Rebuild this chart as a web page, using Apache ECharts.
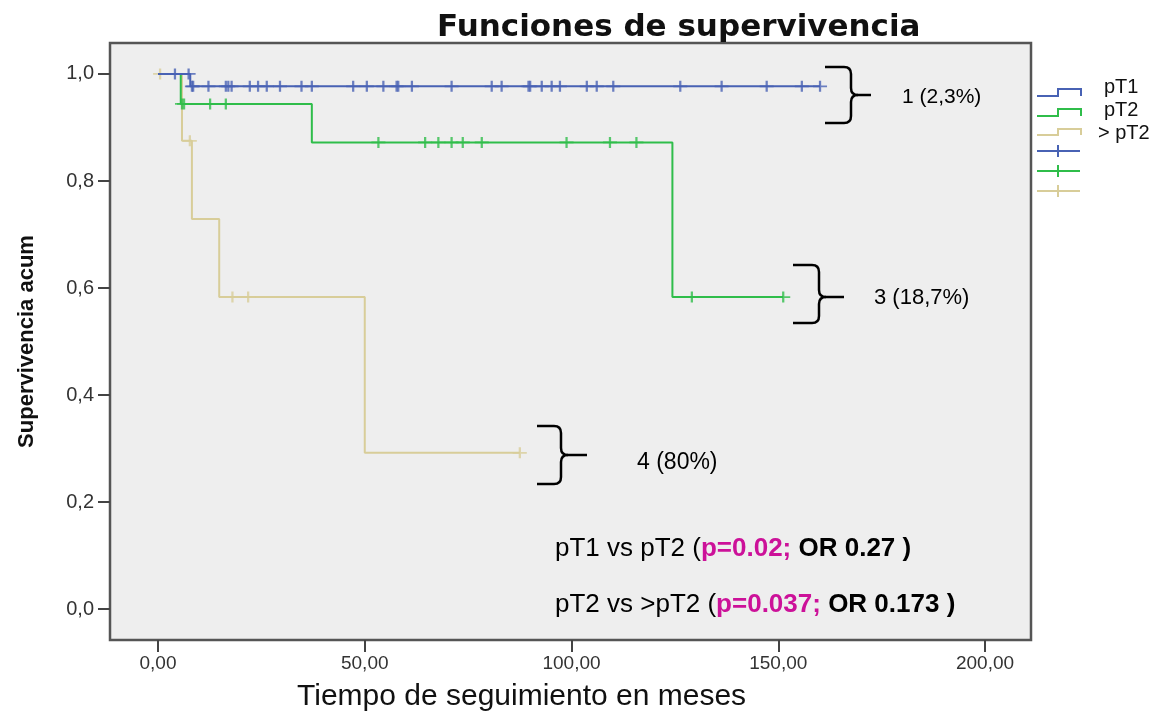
<!DOCTYPE html>
<html>
<head>
<meta charset="utf-8">
<script src="https://cdn.jsdelivr.net/npm/echarts@6/dist/echarts.min.js"></script>
<style>
html,body{margin:0;padding:0;background:#ffffff;}
#chart{width:1162px;height:715px;}
</style>
</head>
<body>
<div id="chart"></div>
<script>
// ---- Data ----
// Kaplan-Meier step curves: [time (months), cumulative survival]
const pT1Curve   = [[0, 1.0], [7.8, 0.977], [160.1, 0.977]];
const pT2Curve   = [[0, 1.0], [5.5, 0.944], [37.2, 0.872], [124.4, 0.583], [151.2, 0.583]];
const gtPT2Curve = [[0, 1.0], [5.8, 0.875], [8.2, 0.729], [14.8, 0.583], [50.0, 0.292], [87.5, 0.292]];

// Censored observation times (months)
const pT1Censored   = [4.1, 7.4, 8.2, 8.5, 12.2, 16.4, 17.0, 17.8, 22.2, 24.2, 26.3, 29.5, 34.7, 37.2, 47.2, 50.5, 54.5, 57.7, 58.1, 61.4, 71.0, 80.7, 83.1, 89.6, 90.0, 92.8, 95.2, 97.2, 103.7, 106.1, 110.1, 126.3, 136.3, 147.2, 155.7, 160.1];
const pT2Censored   = [5.8, 6.3, 12.6, 16.4, 53.3, 64.6, 67.8, 71.0, 73.7, 78.3, 98.8, 109.3, 115.7, 129.1, 151.2];
const gtPT2Censored = [0.5, 7.7, 18.0, 21.8, 87.5];

const seriesNames = ['pT1', 'pT2', '> pT2'];
const xTickValues = [0, 50, 100, 150, 200];
const yTickValues = [0, 0.2, 0.4, 0.6, 0.8, 1.0];

const eventLabels = ['1 (2,3%)', '3 (18,7%)', '4 (80%)'];
const comparisons = [
  ['pT1 vs pT2 (', 'p=0.02;', ' OR 0.27 )'],
  ['pT2 vs >pT2 (', 'p=0.037;', ' OR 0.173 )']
];

// ---- Styling ----
const COLORS = ['#4862b4', '#2fbd4a', '#d8cd99'];
const FONT = "'Liberation Sans', Arial, sans-serif";

// plot frame padding beyond the tick range (as in the SPSS frame)
const X_PAD_LO = 11.61, X_PAD_HI = 11.12, Y_PAD = 0.0579;

function survAt(curve, t) {
  let s = curve[0][1];
  for (const p of curve) { if (p[0] <= t) s = p[1]; }
  return s;
}
const PLUS = 'path://M6 0 L6 12 M0 6 L12 6';

function lineSeries(name, curve, color, z) {
  return {
    name: name, type: 'line', step: 'end', data: curve,
    showSymbol: false, symbol: 'none', z: z,
    lineStyle: { color: color, width: 2 }, itemStyle: { color: color },
    animation: false, silent: true
  };
}
function censorSeries(name, curve, times, color, z) {
  return {
    name: name + ' censurado', type: 'scatter', z: z,
    data: times.map(t => [t, survAt(curve, t)]),
    symbol: PLUS, symbolSize: [14, 11],
    itemStyle: { color: 'rgba(0,0,0,0)', borderColor: color, borderWidth: 2 },
    animation: false, silent: true
  };
}

function braceElements(L, S, T, M, B, tip) {
  const st = { stroke: '#000', lineWidth: 2.5, fill: null };
  const r = 7;
  const segs = [];
  const line = (x1, y1, x2, y2) => segs.push({ type: 'line', silent: true, shape: { x1, y1, x2, y2 }, style: st });
  const curve = (x1, y1, cx, cy, x2, y2) => segs.push({ type: 'bezierCurve', silent: true, shape: { x1, y1, x2, y2, cpx1: cx, cpy1: cy }, style: st });
  line(L, T, S - r, T);
  curve(S - r, T, S, T, S, T + r);
  line(S, T + r, S, M - r);
  curve(S, M - r, S, M, S + r, M);
  line(S + r, M, tip, M);
  curve(S, M + r, S, M, S + r, M);
  line(S, M + r, S, B - r);
  curve(S, B - r, S, B, S - r, B);
  line(S - r, B, L, B);
  return segs;
}

const chart = echarts.init(document.getElementById('chart'), null, { renderer: 'canvas' });

let extraGraphics = [];
const legendY = [[96, 89], [116, 109], [135, 129]];
const legendLabelY = [87, 110, 133];
const legendLabelX = [1104, 1104, 1098];
for (let i = 0; i < 3; i++) {
  const lo = legendY[i][0], hi = legendY[i][1];
  extraGraphics.push({
    type: 'polyline', silent: true,
    shape: { points: [[1037, lo], [1058, lo], [1058, hi], [1081, hi], [1081, lo]] },
    style: { stroke: COLORS[i], lineWidth: 2, fill: null }
  });
  extraGraphics.push({
    type: 'text', silent: true, x: legendLabelX[i], y: legendLabelY[i],
    style: { text: seriesNames[i], font: '20px ' + FONT, fill: '#111', textVerticalAlign: 'middle', verticalAlign: 'middle' }
  });
  const py = 151 + i * 20;
  extraGraphics.push({
    type: 'line', silent: true,
    shape: { x1: 1037, y1: py, x2: 1080, y2: py },
    style: { stroke: COLORS[i], lineWidth: 2 }
  });
  extraGraphics.push({
    type: 'line', silent: true,
    shape: { x1: 1058, y1: py - 6, x2: 1058, y2: py + 6 },
    style: { stroke: COLORS[i], lineWidth: 2 }
  });
}

const braces = [
  { L: 825, S: 851, T: 67, M: 95, B: 123, tip: 871, lx: 902, ly: 97, fs: 21 },
  { L: 793, S: 819, T: 265, M: 297, B: 323, tip: 844, lx: 874, ly: 298, fs: 22 },
  { L: 537, S: 561, T: 426, M: 455, B: 484, tip: 587, lx: 637, ly: 463, fs: 23 }
];
braces.forEach((b, i) => {
  extraGraphics = extraGraphics.concat(braceElements(b.L, b.S, b.T, b.M, b.B, b.tip));
  extraGraphics.push({
    type: 'text', silent: true, x: b.lx, y: b.ly,
    style: { text: eventLabels[i], font: b.fs + 'px ' + FONT, fill: '#000', textVerticalAlign: 'middle', verticalAlign: 'middle' }
  });
});

comparisons.forEach((c, i) => {
  extraGraphics.push({
    type: 'text', silent: true, x: 555, y: 549 + i * 56,
    style: {
      text: '{n|' + c[0] + '}{m|' + c[1] + '}{b|' + c[2] + '}',
      verticalAlign: 'middle', textVerticalAlign: 'middle',
      rich: {
        n: { fontFamily: FONT, fontSize: 26, color: '#000', fill: '#000' },
        m: { fontFamily: FONT, fontSize: 26, fontWeight: 'bold', color: '#cc1199', fill: '#cc1199' },
        b: { fontFamily: FONT, fontSize: 26, fontWeight: 'bold', color: '#000', fill: '#000' }
      }
    }
  });
});

const option = {
  backgroundColor: '#ffffff',
  animation: false,
  title: {
    text: 'Funciones de supervivencia',
    left: 432, top: 7,
    textStyle: { fontFamily: "'DejaVu Sans', sans-serif", fontWeight: 'bold', fontSize: 31, color: '#111' }
  },
  grid: {
    left: 110, right: 131, top: 43, bottom: 75, containLabel: false,
    show: true, backgroundColor: '#eeeeee', borderColor: '#555', borderWidth: 2.5
  },
  xAxis: {
    type: 'value', position: 'bottom',
    min: xTickValues[0] - X_PAD_LO, max: xTickValues[xTickValues.length - 1] + X_PAD_HI,
    axisLine: { show: false, onZero: false },
    axisTick: { show: true, inside: false, length: 12, customValues: xTickValues, lineStyle: { color: '#444', width: 2 } },
    axisLabel: {
      margin: 14, fontFamily: FONT, fontSize: 19, color: '#333', customValues: xTickValues,
      formatter: v => v.toFixed(2).replace('.', ',')
    },
    splitLine: { show: false }
  },
  yAxis: {
    type: 'value', position: 'left',
    min: yTickValues[0] - Y_PAD, max: yTickValues[yTickValues.length - 1] + Y_PAD,
    name: 'Supervivencia acum',
    nameLocation: 'middle', nameRotate: 90, nameGap: 72,
    nameTextStyle: { fontFamily: FONT, fontWeight: 'bold', fontSize: 22, color: '#111' },
    axisLine: { show: false, onZero: false },
    axisTick: { show: true, inside: false, length: 12, customValues: yTickValues, lineStyle: { color: '#444', width: 2 } },
    axisLabel: {
      margin: 16, fontFamily: FONT, fontSize: 20, color: '#333', customValues: yTickValues,
      formatter: v => v.toFixed(1).replace('.', ',')
    },
    splitLine: { show: false }
  },
  graphic: [
    {
      type: 'text', silent: true, x: 297, y: 697,
      style: { text: 'Tiempo de seguimiento en meses', font: '30px ' + FONT, fill: '#111', textVerticalAlign: 'middle', verticalAlign: 'middle' }
    }
  ].concat(extraGraphics),
  series: [
    lineSeries(seriesNames[2], gtPT2Curve, COLORS[2], 2),
    censorSeries(seriesNames[2], gtPT2Curve, gtPT2Censored, COLORS[2], 3),
    lineSeries(seriesNames[1], pT2Curve, COLORS[1], 4),
    censorSeries(seriesNames[1], pT2Curve, pT2Censored, COLORS[1], 5),
    lineSeries(seriesNames[0], pT1Curve, COLORS[0], 6),
    censorSeries(seriesNames[0], pT1Curve, pT1Censored, COLORS[0], 7)
  ]
};
chart.setOption(option);
</script>
</body>
</html>
